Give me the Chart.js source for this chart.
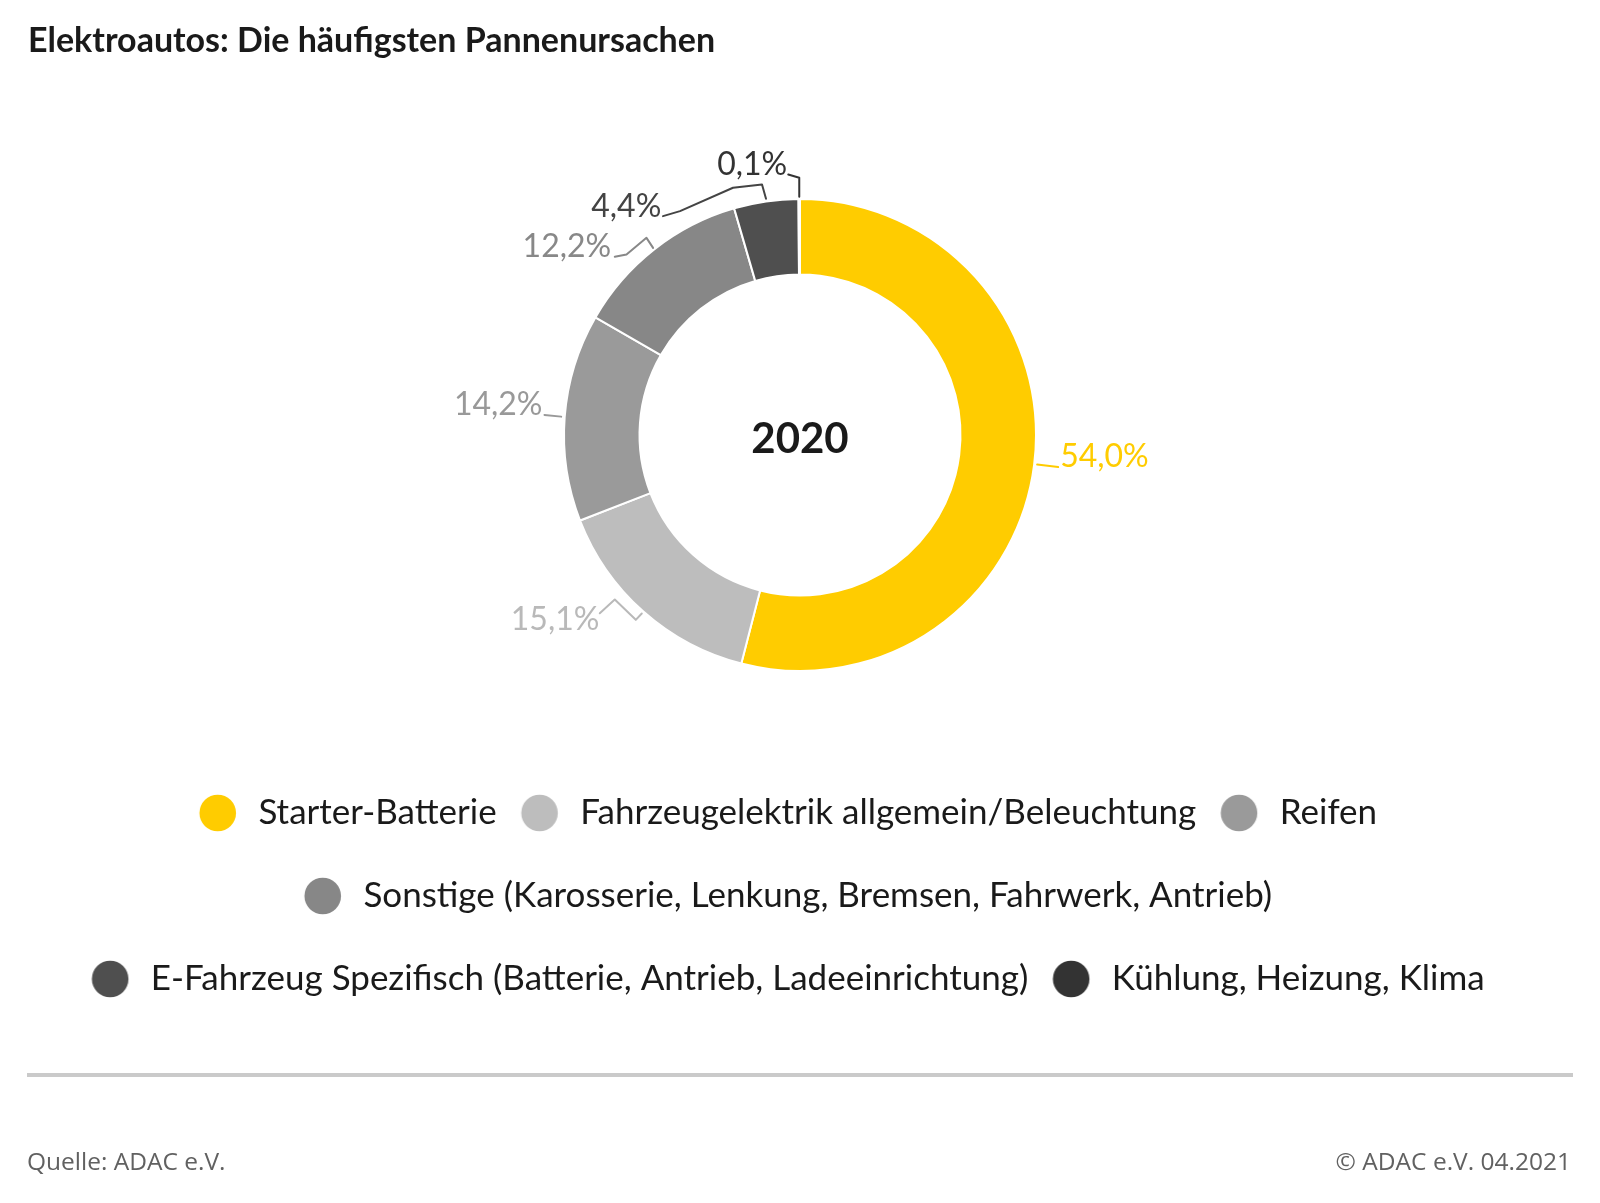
<!DOCTYPE html>
<html><head><meta charset="utf-8">
<script src="https://cdn.jsdelivr.net/npm/chart.js@4.4.1/dist/chart.umd.min.js"></script>
<style>
html,body{margin:0;padding:0;background:#fff;}
#wrap{position:absolute;left:0;top:0;width:1600px;height:1203px;}
</style></head><body>
<div id="wrap"><canvas id="c"></canvas></div>
<script>
const categories = [
  'Starter-Batterie',
  'Fahrzeugelektrik allgemein/Beleuchtung',
  'Reifen',
  'Sonstige (Karosserie, Lenkung, Bremsen, Fahrwerk, Antrieb)',
  'E-Fahrzeug Spezifisch (Batterie, Antrieb, Ladeeinrichtung)',
  'Kühlung, Heizung, Klima'
];
const values = [54.0, 15.1, 14.2, 12.2, 4.4, 0.1];
const sliceColors = ['#ffcc00', '#bdbdbd', '#9a9a9a', '#878787', '#4f4f4f', '#333333'];
const labelColors = ['#ffcc00', '#b9b9b9', '#999999', '#888888', '#444444', '#333333'];
const centerText = '2020';
const titleText = 'Elektroautos: Die häufigsten Pannenursachen';
const sourceText = 'Quelle: ADAC e.V.';
const copyrightText = '© ADAC e.V. 04.2021';

// leader line geometry, relative to the outer edge point at each slice's mid angle
const leaderGeom = [
  {pts: [[3, 0], [24, 2.5]], tx: 26, ty: 2.2, align: 'left'},
  {pts: [[-1.6, 2], [-7.6, 8.3], [-28.6, -12], [-43.6, 1.7]], tx: -44, ty: 18.3, align: 'right'},
  {pts: [[-3.5, -0.6], [-20.2, -2.3]], tx: -22.2, ty: -2.3, align: 'right'},
  {pts: [[-1.1, -1.6], [-7.7, -11.6], [-27.7, 5.1], [-39.4, 7.4]], tx: -43, ty: 7.4, align: 'right'},
  {pts: [[0, -2.7], [-4, -17], [-33, -13.7], [-86, 9.7], [-103, 14.7]], tx: -104.7, ty: 15.3, align: 'right'},
  {pts: [[0, -2.2], [0, -21.2], [-11, -24.5]], tx: -12, ty: -24.5, align: 'right'}
];

function fmt(v) { return v.toFixed(1).replace('.', ',') + '%'; }

function makeDot(color) {
  const c = document.createElement('canvas');
  c.width = 80; c.height = 40;
  const g = c.getContext('2d');
  g.fillStyle = color;
  g.beginPath();
  g.arc(40 - 14.2, 20, 18.3, 0, Math.PI * 2);
  g.fill();
  return c;
}
const dots = sliceColors.map(makeDot);

const decor = {
  id: 'decor',
  afterDraw(chart) {
    const ctx = chart.ctx;
    ctx.save();
    ctx.fillStyle = '#1a1a1a';
    ctx.font = 'bold 34px Lato';
    ctx.textAlign = 'left';
    ctx.textBaseline = 'alphabetic';
    ctx.fillText(titleText, 28, 52);
    ctx.fillStyle = '#cacaca';
    ctx.fillRect(27, 1073, 1546, 4);
    ctx.fillStyle = '#616161';
    ctx.font = '24.5px "Open Sans"';
    ctx.fillText(sourceText, 27, 1170);
    ctx.textAlign = 'right';
    ctx.fillText(copyrightText, 1571, 1170);

    const meta = chart.getDatasetMeta(0);
    const arcs = meta.data;
    if (arcs.length) {
      const cx = arcs[0].x, cy = arcs[0].y;
      ctx.fillStyle = '#1a1a1a';
      ctx.font = 'bold 42px Lato';
      ctx.textAlign = 'center';
      ctx.fillText(centerText, cx, cy + 18);
    }
    arcs.forEach((arc, i) => {
      const g = leaderGeom[i];
      const mid = (arc.startAngle + arc.endAngle) / 2;
      const sx = arc.x + Math.cos(mid) * arc.outerRadius;
      const sy = arc.y + Math.sin(mid) * arc.outerRadius;
      ctx.strokeStyle = labelColors[i];
      ctx.lineWidth = 2;
      ctx.lineJoin = 'round';
      ctx.lineCap = 'round';
      ctx.beginPath();
      g.pts.forEach((p, k) => {
        if (k === 0) ctx.moveTo(sx + p[0], sy + p[1]);
        else ctx.lineTo(sx + p[0], sy + p[1]);
      });
      ctx.stroke();
      ctx.fillStyle = labelColors[i];
      ctx.font = '32px Lato';
      ctx.textAlign = g.align;
      ctx.textBaseline = 'alphabetic';
      ctx.fillText(fmt(values[i]), sx + g.tx, sy + g.ty);
    });
    ctx.restore();
  }
};

new Chart(document.getElementById('c'), {
  type: 'doughnut',
  data: {
    labels: categories,
    datasets: [{
      data: values,
      backgroundColor: sliceColors,
      borderColor: '#ffffff',
      borderWidth: 2,
      radius: 236,
      cutout: '68%'
    }]
  },
  options: {
    responsive: true,
    maintainAspectRatio: false,
    animation: false,
    layout: {padding: {top: 122.5, bottom: 196.5, left: 0, right: 0}},
    plugins: {
      tooltip: {enabled: false},
      title: {display: false},
      legend: {
        display: true,
        position: 'bottom',
        labels: {
          font: {family: 'Lato', size: 35},
          color: '#1a1a1a',
          padding: 48,
          usePointStyle: true,
          pointStyleWidth: 18,
          boxHeight: 35,
          generateLabels(chart) {
            const items = Chart.overrides.doughnut.plugins.legend.labels.generateLabels(chart);
            return items.map((it, i) => Object.assign(it, {pointStyle: dots[i]}));
          }
        }
      }
    }
  },
  plugins: [decor]
});
</script>
</body></html>
